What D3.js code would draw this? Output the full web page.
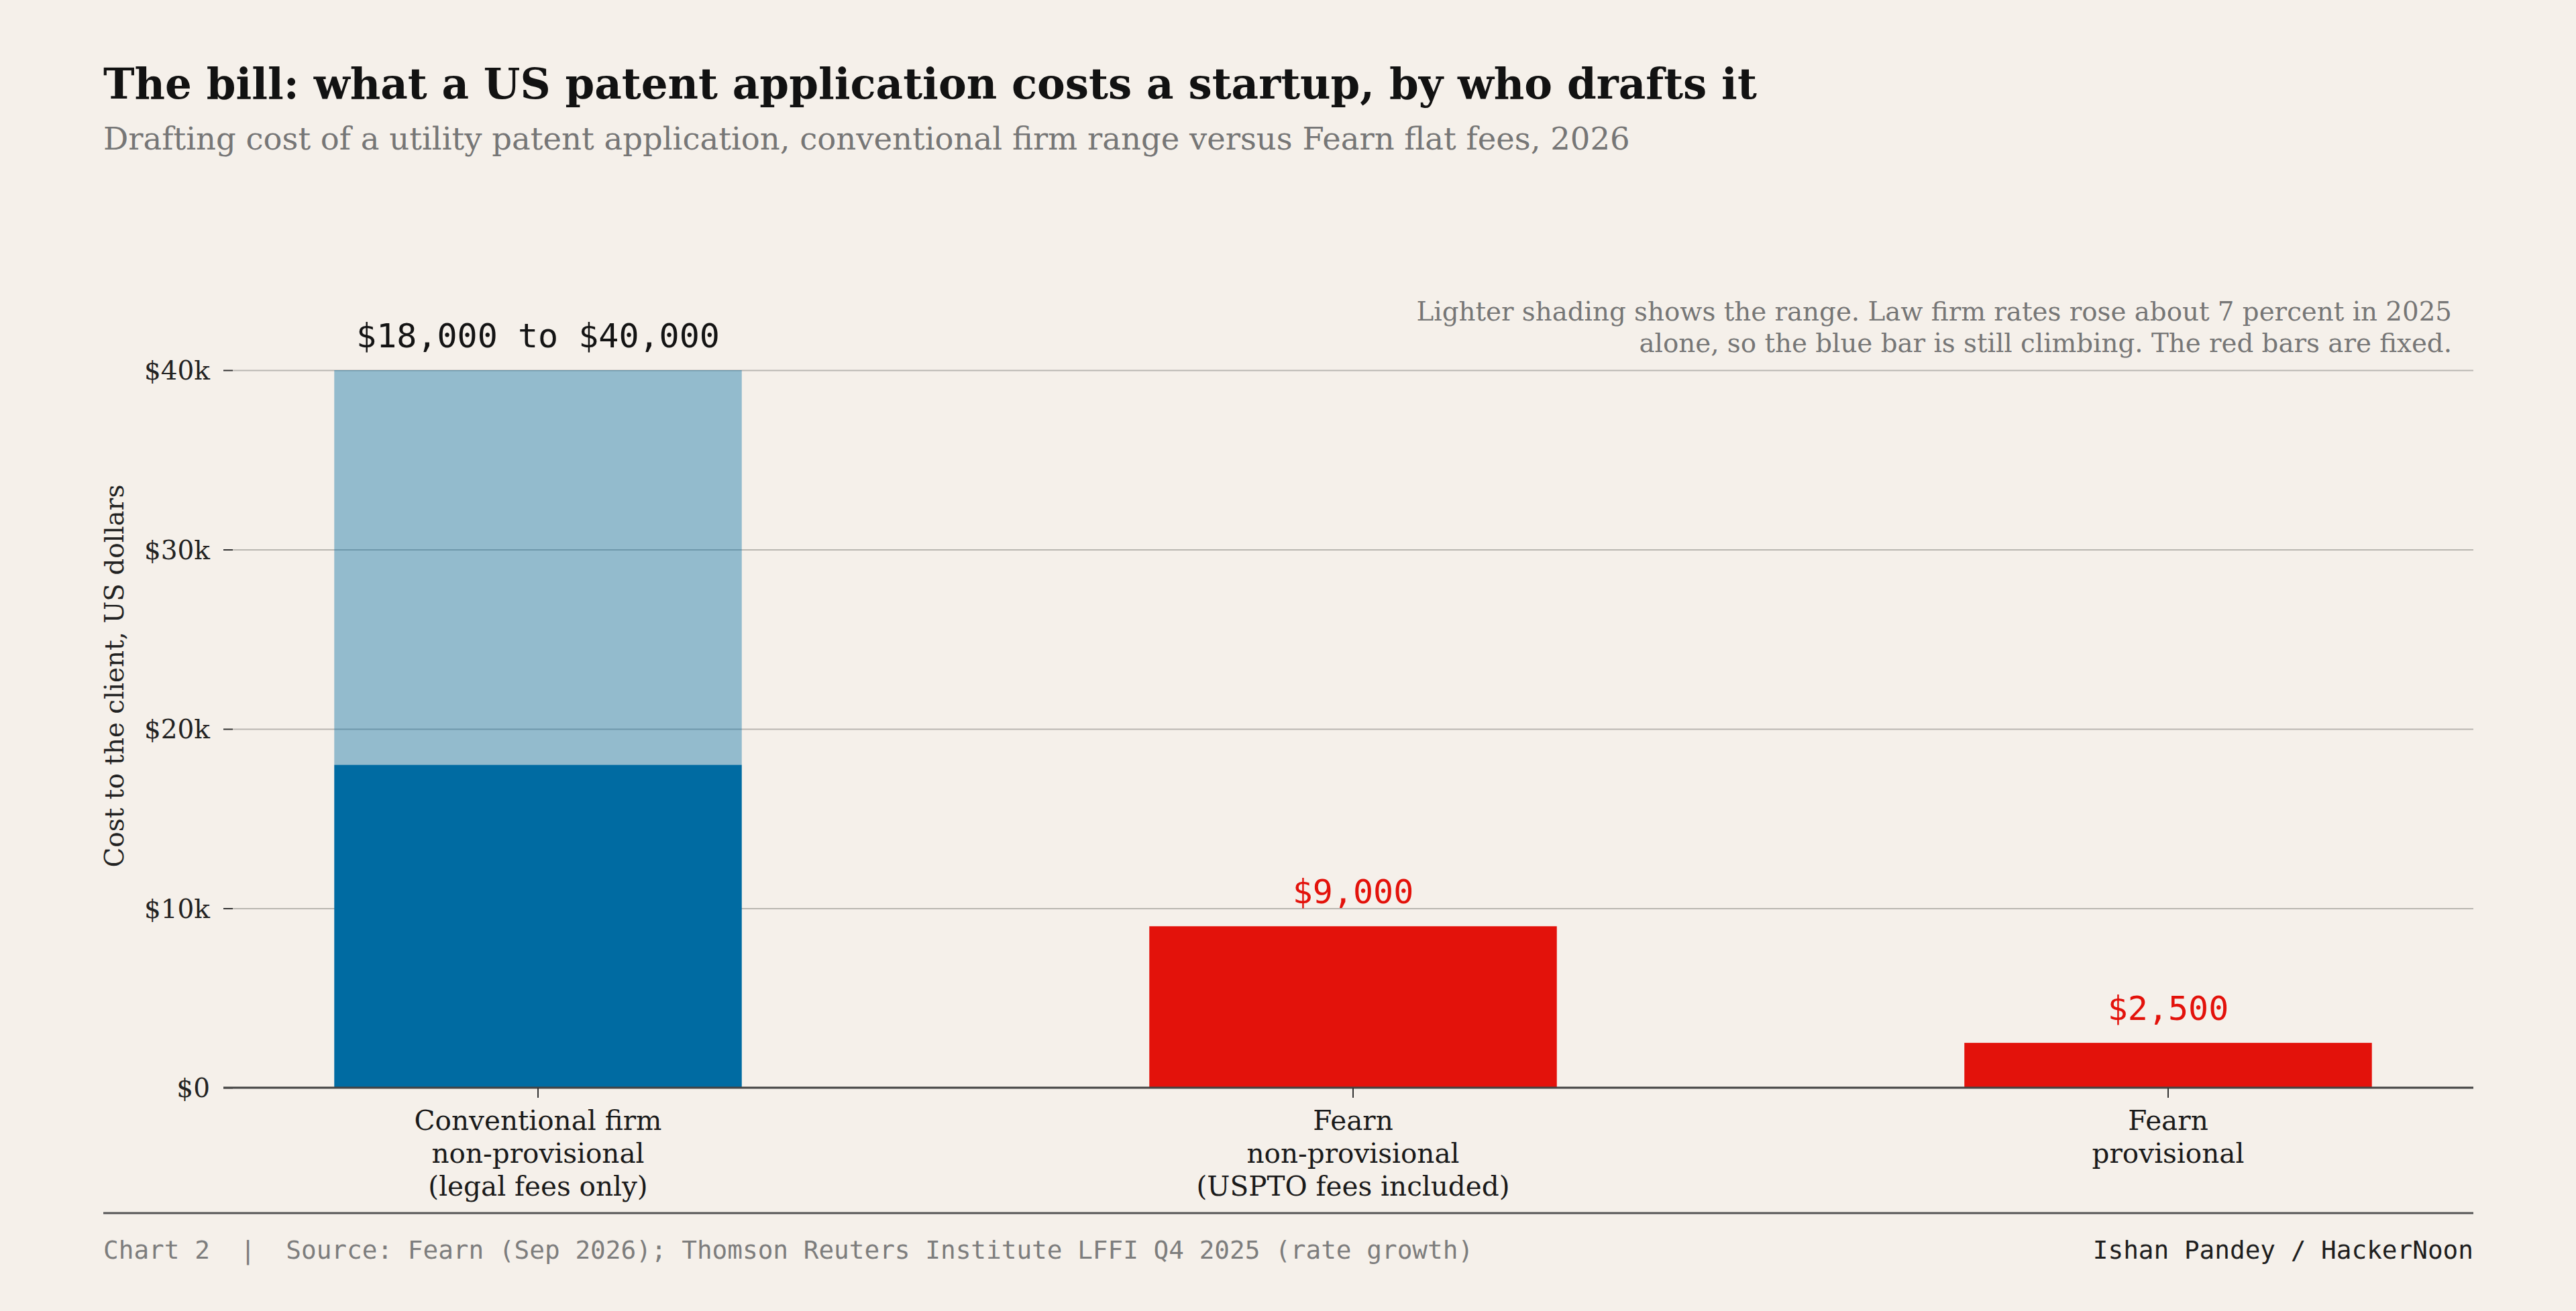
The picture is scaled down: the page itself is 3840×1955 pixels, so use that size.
<!DOCTYPE html>
<html>
<head>
<meta charset="utf-8">
<script src="https://cdn.jsdelivr.net/npm/d3@7"></script>
<style>
  body { margin: 0; background: #f5f0ea; }
  svg { display: block; }
</style>
</head>
<body>
<script>
// data
var categories = ["Conventional firm|non-provisional|(legal fees only)",
  "Fearn|non-provisional|(USPTO fees included)",
  "Fearn|provisional"];
var drafter = ["firm", "fearn", "fearn"];
var lowValues = [18000, 9000, 2500];
var highValues = [40000, 9000, 2500];
var barLabels = ["$18,000 to $40,000", "$9,000", "$2,500"];
var yTicks = [0, 10000, 20000, 30000, 40000];
var yTickLabels = ["$0", "$10k", "$20k", "$30k", "$40k"];

var W = 3840, H = 1955;
var serif = "'DejaVu Serif', serif";
var mono = "'DejaVu Sans Mono', monospace";
var blue = "#006ba2", red = "#e3120b";

var svg = d3.select("body").append("svg")
  .attr("width", W)
  .attr("height", H);

svg.append("rect").attr("width", W).attr("height", H).attr("fill", "#f5f0ea");

// scale the font so the text takes the measured width
function fitWidth(sel, w) {
  var len = sel.node().getComputedTextLength();
  var fs = parseFloat(sel.attr("font-size"));
  sel.attr("font-size", fs * w / len);
  return fs * w / len;
}

var title = svg.append("text")
  .attr("x", 154).attr("y", 147)
  .attr("font-family", serif).attr("font-weight", "bold")
  .attr("font-size", 60).attr("fill", "#121212")
  .text("The bill: what a US patent application costs a startup, by who drafts it");
fitWidth(title, 2465);

var sub = svg.append("text")
  .attr("x", 154).attr("y", 223)
  .attr("font-family", serif).attr("font-size", 40).attr("fill", "#767676")
  .text("Drafting cost of a utility patent application, conventional firm range versus Fearn flat fees, 2026");
fitWidth(sub, 2276);

var x0 = 347, x1 = 3687, yBottom = 1622, yTop = 552;

var x = d3.scaleBand()
  .domain(categories)
  .range([x0, x1])
  .paddingInner(0.5)
  .paddingOuter(0.1245);

var y = d3.scaleLinear()
  .domain([0, 40000])
  .range([yBottom, yTop]);

// gridlines
var grid = svg.append("g")
  .attr("transform", "translate(" + x0 + ",0)")
  .call(d3.axisLeft(y).tickValues(yTicks).tickSize(-(x1 - x0)).tickFormat(""));
grid.select(".domain").remove();
grid.selectAll("line").attr("stroke", "#b9b6b1").attr("stroke-width", 2);

// y axis ticks and labels
var yAxis = svg.append("g")
  .attr("transform", "translate(" + x0 + ",0)")
  .call(d3.axisLeft(y).tickValues(yTicks).tickSize(14).tickPadding(20)
    .tickFormat(function(d, i) { return yTickLabels[i]; }));
yAxis.select(".domain").remove();
yAxis.selectAll("line").attr("stroke", "#333").attr("stroke-width", 2);
yAxis.selectAll("text")
  .attr("font-family", serif).attr("font-size", 39).attr("fill", "#222")
  .attr("dy", "0.35em");

var yLabel = svg.append("text")
  .attr("transform", "translate(184,1008) rotate(-90)")
  .attr("text-anchor", "middle")
  .attr("font-family", serif).attr("font-size", 36).attr("fill", "#222")
  .text("Cost to the client, US dollars");
fitWidth(yLabel, 571);

// bars: solid part up to the low value, shaded range above it
var bars = svg.append("g");
bars.selectAll("rect.low")
  .data(categories)
  .enter().append("rect")
  .attr("class", "low")
  .attr("x", function(d) { return x(d); })
  .attr("width", x.bandwidth())
  .attr("y", function(d, i) { return y(lowValues[i]); })
  .attr("height", function(d, i) { return y(0) - y(lowValues[i]); })
  .attr("fill", function(d, i) { return drafter[i] == "firm" ? blue : red; });

bars.selectAll("rect.range")
  .data(categories)
  .enter().append("rect")
  .attr("class", "range")
  .attr("x", function(d) { return x(d); })
  .attr("width", x.bandwidth())
  .attr("y", function(d, i) { return y(highValues[i]); })
  .attr("height", function(d, i) { return y(lowValues[i]) - y(highValues[i]); })
  .attr("fill", function(d, i) { return drafter[i] == "firm" ? blue : red; })
  .attr("fill-opacity", 0.4);

bars.selectAll("text")
  .data(categories)
  .enter().append("text")
  .attr("x", function(d) { return x(d) + x.bandwidth() / 2; })
  .attr("y", function(d, i) { return y(highValues[i]) - 34; })
  .attr("text-anchor", "middle")
  .attr("font-family", mono).attr("font-size", 50)
  .attr("fill", function(d, i) { return drafter[i] == "firm" ? "#141414" : red; })
  .text(function(d, i) { return barLabels[i]; });

// zero line
svg.append("line")
  .attr("x1", x0 - 14).attr("x2", x1)
  .attr("y1", y(0)).attr("y2", y(0))
  .attr("stroke", "#444").attr("stroke-width", 3);

// x axis with multi-line category labels
var xAxis = svg.append("g")
  .attr("transform", "translate(0," + y(0) + ")")
  .call(d3.axisBottom(x).tickSize(15).tickFormat(""));
xAxis.select(".domain").remove();
xAxis.selectAll("line").attr("stroke", "#333").attr("stroke-width", 2);
xAxis.selectAll(".tick").each(function(d) {
  var t = d3.select(this).append("text")
    .attr("text-anchor", "middle")
    .attr("font-family", serif).attr("font-size", 40.5).attr("fill", "#1a1a1a");
  d.split("|").forEach(function(line, k) {
    t.append("tspan").attr("x", 0).attr("y", 63 + k * 49).text(line);
  });
});

// note at top right
var note1 = svg.append("text")
  .attr("x", 3655).attr("y", 478).attr("text-anchor", "end")
  .attr("font-family", serif).attr("font-size", 36).attr("fill", "#767676")
  .text("Lighter shading shows the range. Law firm rates rose about 7 percent in 2025");
var noteSize = fitWidth(note1, 1544);
svg.append("text")
  .attr("x", 3655).attr("y", 525).attr("text-anchor", "end")
  .attr("font-family", serif).attr("font-size", noteSize).attr("fill", "#767676")
  .text("alone, so the blue bar is still climbing. The red bars are fixed.");

// footer
svg.append("line")
  .attr("x1", 154).attr("x2", x1)
  .attr("y1", 1809).attr("y2", 1809)
  .attr("stroke", "#555").attr("stroke-width", 3);

svg.append("text")
  .attr("x", 154).attr("y", 1877)
  .attr("font-family", mono).attr("font-size", 37.7).attr("fill", "#7d7d7d")
  .attr("xml:space", "preserve")
  .style("white-space", "pre")
  .text("Chart 2  |  Source: Fearn (Sep 2026); Thomson Reuters Institute LFFI Q4 2025 (rate growth)");

svg.append("text")
  .attr("x", x1).attr("y", 1877).attr("text-anchor", "end")
  .attr("font-family", mono).attr("font-size", 37.7).attr("fill", "#1e1e1e")
  .text("Ishan Pandey / HackerNoon");
</script>
</body>
</html>
